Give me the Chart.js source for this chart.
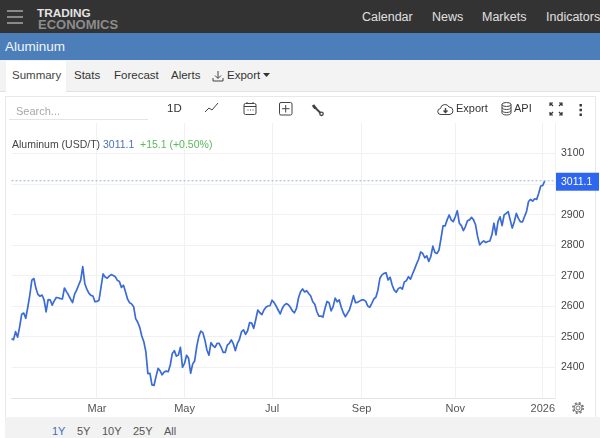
<!DOCTYPE html>
<html>
<head>
<meta charset="utf-8">
<title>Aluminum</title>
<script src="https://cdn.jsdelivr.net/npm/chart.js@4"></script>
<style>
  html, body { margin: 0; padding: 0; }
  body { width: 600px; height: 438px; overflow: hidden; position: relative; background: #fff;
         font-family: "Liberation Sans", Arial, sans-serif; }
  .band { position: absolute; left: 0; width: 600px; }
  .t { position: absolute; white-space: nowrap; line-height: 1; }
  svg { position: absolute; fill: none; }
  canvas { position: absolute; left: 0; top: 96px; }
</style>
</head>
<body>
  <!-- top navigation -->
  <div class="band" style="top:0;height:33px;background:#333"></div>
  <svg style="left:7px;top:10px" width="16" height="14" stroke="#a8a8a8" stroke-width="1.6">
    <path d="M0 1h16M0 7h16M0 13h16"/>
  </svg>
  <span class="t" style="left:37px;top:8px;font-size:11.8px;font-weight:bold;color:#e4e4e4">TRADING</span>
  <span class="t" style="left:38px;top:17.5px;font-size:13px;font-weight:bold;color:#8c8c8c">ECONOMICS</span>
  <span class="t" style="left:362px;top:11px;font-size:12.5px;color:#e0e0e0">Calendar</span>
  <span class="t" style="left:432px;top:11px;font-size:12.5px;color:#e0e0e0">News</span>
  <span class="t" style="left:482px;top:11px;font-size:12.5px;color:#e0e0e0">Markets</span>
  <span class="t" style="left:546px;top:11px;font-size:12.5px;color:#e0e0e0">Indicators</span>

  <!-- title bar and tabs -->
  <div class="band" style="top:33px;height:27px;background:#4c7fba"></div>
  <span class="t" style="left:5px;top:40px;font-size:13.5px;color:#f2f6fb">Aluminum</span>
  <div class="band" style="top:60px;height:31px;background:#f3f3f3;border-bottom:1px solid #e2e2e2"></div>
  <div style="position:absolute;left:6px;top:61px;width:60px;height:31px;background:#fff"></div>
  <span class="t" style="left:12px;top:70px;font-size:11.5px;color:#444">Summary</span>
  <span class="t" style="left:74px;top:70px;font-size:11.5px;color:#333">Stats</span>
  <span class="t" style="left:114px;top:70px;font-size:11.5px;color:#333">Forecast</span>
  <span class="t" style="left:171px;top:70px;font-size:11.5px;color:#333">Alerts</span>
  <svg style="left:212px;top:70px" width="12" height="12" stroke="#444" stroke-width="1">
    <path d="M6 1v7M3 5.5l3 3 3-3M1 8v3h10V8"/>
  </svg>
  <span class="t" style="left:227px;top:70px;font-size:11.5px;color:#333">Export</span>
  <svg style="left:263px;top:73px" width="7" height="5"><path d="M0 0h7L3.5 4z" fill="#333"/></svg>

  <!-- card holding the chart -->
  <div style="position:absolute;left:5px;top:96px;width:589px;height:340px;border:1px solid #e8e8e8;border-bottom:0"></div>
  <div style="position:absolute;left:5px;top:417px;width:595px;height:21px;background:#f2f2f2"></div>

  <canvas id="chart" width="600" height="322"></canvas>

  <!-- chart toolbar -->
  <span class="t" style="left:16px;top:106px;font-size:11px;color:#a8a8a8">Search...</span>
  <div style="position:absolute;left:9px;top:119px;width:139px;height:1px;background:#e4e4e4"></div>
  <span class="t" style="left:167px;top:103px;font-size:11.5px;color:#333">1D</span>
  <svg style="left:204px;top:102px" width="15" height="11" stroke="#444" stroke-width="1">
    <path d="M1 10l4-4 3 2 6-7"/>
  </svg>
  <svg style="left:243px;top:101px" width="14" height="15" stroke="#444" stroke-width="1">
    <rect x="1" y="2.5" width="12" height="11" rx="1.5"/>
    <path d="M1 5.5h12M4 1v2M10 1v2M4.5 9h1M7 9h1M9.5 9h1"/>
  </svg>
  <svg style="left:279px;top:102px" width="14" height="14" stroke="#444" stroke-width="1">
    <rect x="0.5" y="0.5" width="12.5" height="12.5" rx="1.5"/>
    <path d="M6.7 3v7.5M3 6.7h7.5"/>
  </svg>
  <!-- wrench -->
  <svg style="left:311px;top:104px" width="14" height="13" stroke="#444" stroke-width="2">
    <path d="M2 1l2.5 3.5" stroke-width="3"/>
    <path d="M3.5 3l6 6"/>
    <circle cx="10.5" cy="9.8" r="1.7" stroke-width="1.3"/>
  </svg>
  <svg style="left:437px;top:103px" width="17" height="13" stroke="#444" stroke-width="1">
    <path d="M4 11.5a3 3 0 0 1-.5-6 4.5 4.5 0 0 1 8.5-1.5 3.8 3.8 0 0 1 1 7.5z"/>
    <path d="M8.5 5v4M6.5 7.5l2 2 2-2" stroke-width="1.4"/>
  </svg>
  <span class="t" style="left:456px;top:103px;font-size:11px;color:#333">Export</span>
  <svg style="left:501px;top:102px" width="11" height="14" stroke="#444" stroke-width="1">
    <ellipse cx="5.5" cy="2.5" rx="4.5" ry="2"/>
    <path d="M1 2.5v8.5c0 1 2 2 4.5 2s4.5-1 4.5-2V2.5M1 5.5c0 1 2 2 4.5 2s4.5-1 4.5-2M1 8.5c0 1 2 2 4.5 2s4.5-1 4.5-2"/>
  </svg>
  <span class="t" style="left:514px;top:103px;font-size:11px;color:#333">API</span>
  <svg style="left:549px;top:102px" width="14" height="14" stroke="#333" stroke-width="1.2">
    <path d="M1 4V1h3M13 4V1h-3M1 10v3h3M13 10v3h-3M1 1l3 3M13 1l-3 3M1 13l3-3M13 13l-3-3"/>
  </svg>
  <svg style="left:579px;top:104px" width="4" height="12"><path d="M0.5 0h2.4v2.4H.5zM0.5 4.8h2.4v2.4H.5zM0.5 9.6h2.4V12H.5z" fill="#333"/></svg>

  <!-- quote line -->
  <span class="t" style="left:12px;top:139px;font-size:10.5px;color:#444">Aluminum (USD/T)</span>
  <span class="t" style="left:103px;top:139px;font-size:10.5px;color:#4a72b8">3011.1</span>
  <span class="t" style="left:140px;top:139px;font-size:10.5px;color:#5cb85c">+15.1 (+0.50%)</span>

  <!-- range selector and settings -->
  <span class="t" style="left:52px;top:426px;font-size:11px;color:#3f6fb5">1Y</span>
  <span class="t" style="left:77px;top:426px;font-size:11px;color:#555">5Y</span>
  <span class="t" style="left:102px;top:426px;font-size:11px;color:#555">10Y</span>
  <span class="t" style="left:133px;top:426px;font-size:11px;color:#555">25Y</span>
  <span class="t" style="left:164px;top:426px;font-size:11px;color:#555">All</span>
  <!-- gear -->
  <svg style="left:571px;top:401px" width="14" height="14" stroke="#777">
    <circle cx="7" cy="7" r="2" stroke-width="1"/>
    <circle cx="7" cy="7" r="4" stroke-width="1"/>
    <circle cx="7" cy="7" r="5.2" stroke-width="1.6" stroke-dasharray="2.1 2"/>
  </svg>

<script>
// Daily aluminum close in USD/T, one value per trading session from 2 Jan 2025
const prices = [
  2494, 2491, 2517, 2499, 2533, 2574, 2578, 2561, 2597, 2637,
  2686, 2691, 2659, 2639, 2633, 2637, 2621, 2582, 2622, 2621,
  2604, 2618, 2629, 2628, 2625, 2624, 2660, 2648, 2637, 2624,
  2612, 2640, 2653, 2670, 2686, 2730, 2675, 2656, 2643, 2636,
  2634, 2615, 2616, 2620, 2664, 2706, 2696, 2692, 2699, 2704,
  2701, 2697, 2685, 2681, 2662, 2669, 2648, 2624, 2612, 2608,
  2599, 2560, 2548, 2531, 2503, 2484, 2452, 2380, 2381, 2343,
  2341, 2370, 2397, 2389, 2376, 2385, 2388, 2386, 2408, 2446,
  2455, 2437, 2441, 2466, 2400, 2413, 2440, 2430, 2381, 2411,
  2422, 2468, 2501, 2519, 2514, 2490, 2457, 2440, 2481, 2471,
  2466, 2479, 2479, 2466, 2449, 2449, 2473, 2479, 2490, 2477,
  2455, 2479, 2492, 2517, 2523, 2508, 2520, 2547, 2545, 2528,
  2557, 2588, 2579, 2573, 2588, 2597, 2601, 2602, 2620, 2612,
  2601, 2588, 2575, 2593, 2604, 2609, 2605, 2597, 2585, 2579,
  2593, 2628, 2648, 2657, 2647, 2651, 2642, 2634, 2615, 2607,
  2583, 2568, 2568, 2565, 2593, 2616, 2612, 2585, 2599, 2627,
  2615, 2621, 2597, 2579, 2566, 2577, 2588, 2610, 2635, 2612,
  2613, 2617, 2621, 2621, 2617, 2601, 2597, 2610, 2624, 2630,
  2653, 2692, 2703, 2708, 2710, 2686, 2695, 2670, 2653, 2646,
  2658, 2662, 2656, 2680, 2684, 2697, 2689, 2706, 2722, 2739,
  2754, 2778, 2773, 2759, 2765, 2747, 2763, 2797, 2776, 2773,
  2784, 2822, 2863, 2863, 2883, 2899, 2883, 2877, 2893, 2913,
  2872, 2864, 2848, 2861, 2880, 2883, 2891, 2883, 2866, 2828,
  2801, 2809, 2814, 2809, 2812, 2814, 2834, 2872, 2834, 2877,
  2893, 2864, 2899, 2904, 2910, 2883, 2856, 2877, 2904, 2888,
  2877, 2876, 2893, 2910, 2943, 2950, 2944, 2952, 2950, 2970,
  2994, 2996, 3011.1
];

// Month ticks on the session axis
const tickDates = ["2025-03-03", "2025-05-01", "2025-07-01", "2025-09-01", "2025-11-04", "2026-01-02"];
const tickNames = ["Mar", "May", "Jul", "Sep", "Nov", "2026"];

const yMin = 2300;
const yMax = 3200;

// Weekday labels for the sessions, plus a few empty ones after the last close
function weekdays(start, count) {
  const out = [];
  const d = new Date(start + "T00:00:00Z");
  while (out.length < count) {
    if (d.getUTCDay() !== 0 && d.getUTCDay() !== 6) {
      out.push(d.toISOString().slice(0, 10));
    }
    d.setUTCDate(d.getUTCDate() + 1);
  }
  return out;
}
const sessionDates = weekdays("2025-01-02", prices.length + 5);

const gridColor = "#f1f1f1";
const lastPrice = prices[prices.length - 1];

// Dotted level and blue price tag for the latest close
const lastPriceTag = {
  id: "lastPriceTag",
  afterDatasetsDraw(chart) {
    const ctx = chart.ctx;
    const area = chart.chartArea;
    const y = chart.scales.y.getPixelForValue(lastPrice);
    ctx.save();
    ctx.strokeStyle = "#9fb6d8";
    ctx.lineWidth = 1;
    ctx.setLineDash([2, 2]);
    ctx.beginPath();
    ctx.moveTo(area.left, y);
    ctx.lineTo(area.right, y);
    ctx.stroke();
    ctx.setLineDash([]);
    ctx.fillStyle = "#2f66f0";
    ctx.fillRect(area.right + 1, y - 8, 43, 18);
    ctx.fillStyle = "#fff";
    ctx.font = '10.5px "Liberation Sans", Arial, sans-serif';
    ctx.textBaseline = "middle";
    ctx.fillText(lastPrice.toFixed(1), area.right + 6, y + 1.5);
    ctx.restore();
  },
};

new Chart(document.getElementById("chart"), {
  type: "line",
  data: {
    labels: sessionDates,
    datasets: [
      {
        label: "Aluminum",
        data: prices,
        borderColor: "#3a6bd6",
        borderWidth: 1.7,
        pointRadius: 0,
        tension: 0,
        borderJoinStyle: "round",
      },
    ],
  },
  options: {
    responsive: false,
    animation: false,
    layout: { padding: { left: 11.5, top: 27, right: 0, bottom: 0 } },
    plugins: { legend: { display: false }, tooltip: { enabled: false } },
    scales: {
      x: {
        afterBuildTicks(axis) {
          axis.ticks = axis.ticks.filter((t) => tickDates.includes(sessionDates[t.value]));
        },
        afterFit(axis) {
          axis.height = 20;
        },
        ticks: {
          autoSkip: false,
          maxRotation: 0,
          padding: 4,
          color: "#555",
          font: { family: "Liberation Sans", size: 11 },
          callback(value) {
            return tickNames[tickDates.indexOf(sessionDates[value])];
          },
        },
        grid: { color: gridColor, drawTicks: false },
        border: { color: "#e4e4e4" },
      },
      y: {
        position: "right",
        min: yMin,
        max: yMax,
        afterFit(axis) {
          axis.width = 45;
        },
        ticks: {
          stepSize: 100,
          padding: 6,
          crossAlign: "near",
          color: "#444",
          font: { family: "Liberation Sans", size: 10.5 },
          callback(value) {
            return value === yMin || value === yMax ? "" : value;
          },
        },
        grid: {
          drawTicks: false,
          color(ctx) {
            return ctx.tick.value === yMax ? "transparent" : gridColor;
          },
        },
        border: { color: gridColor },
      },
    },
  },
  plugins: [lastPriceTag],
});
</script>
</body>
</html>
